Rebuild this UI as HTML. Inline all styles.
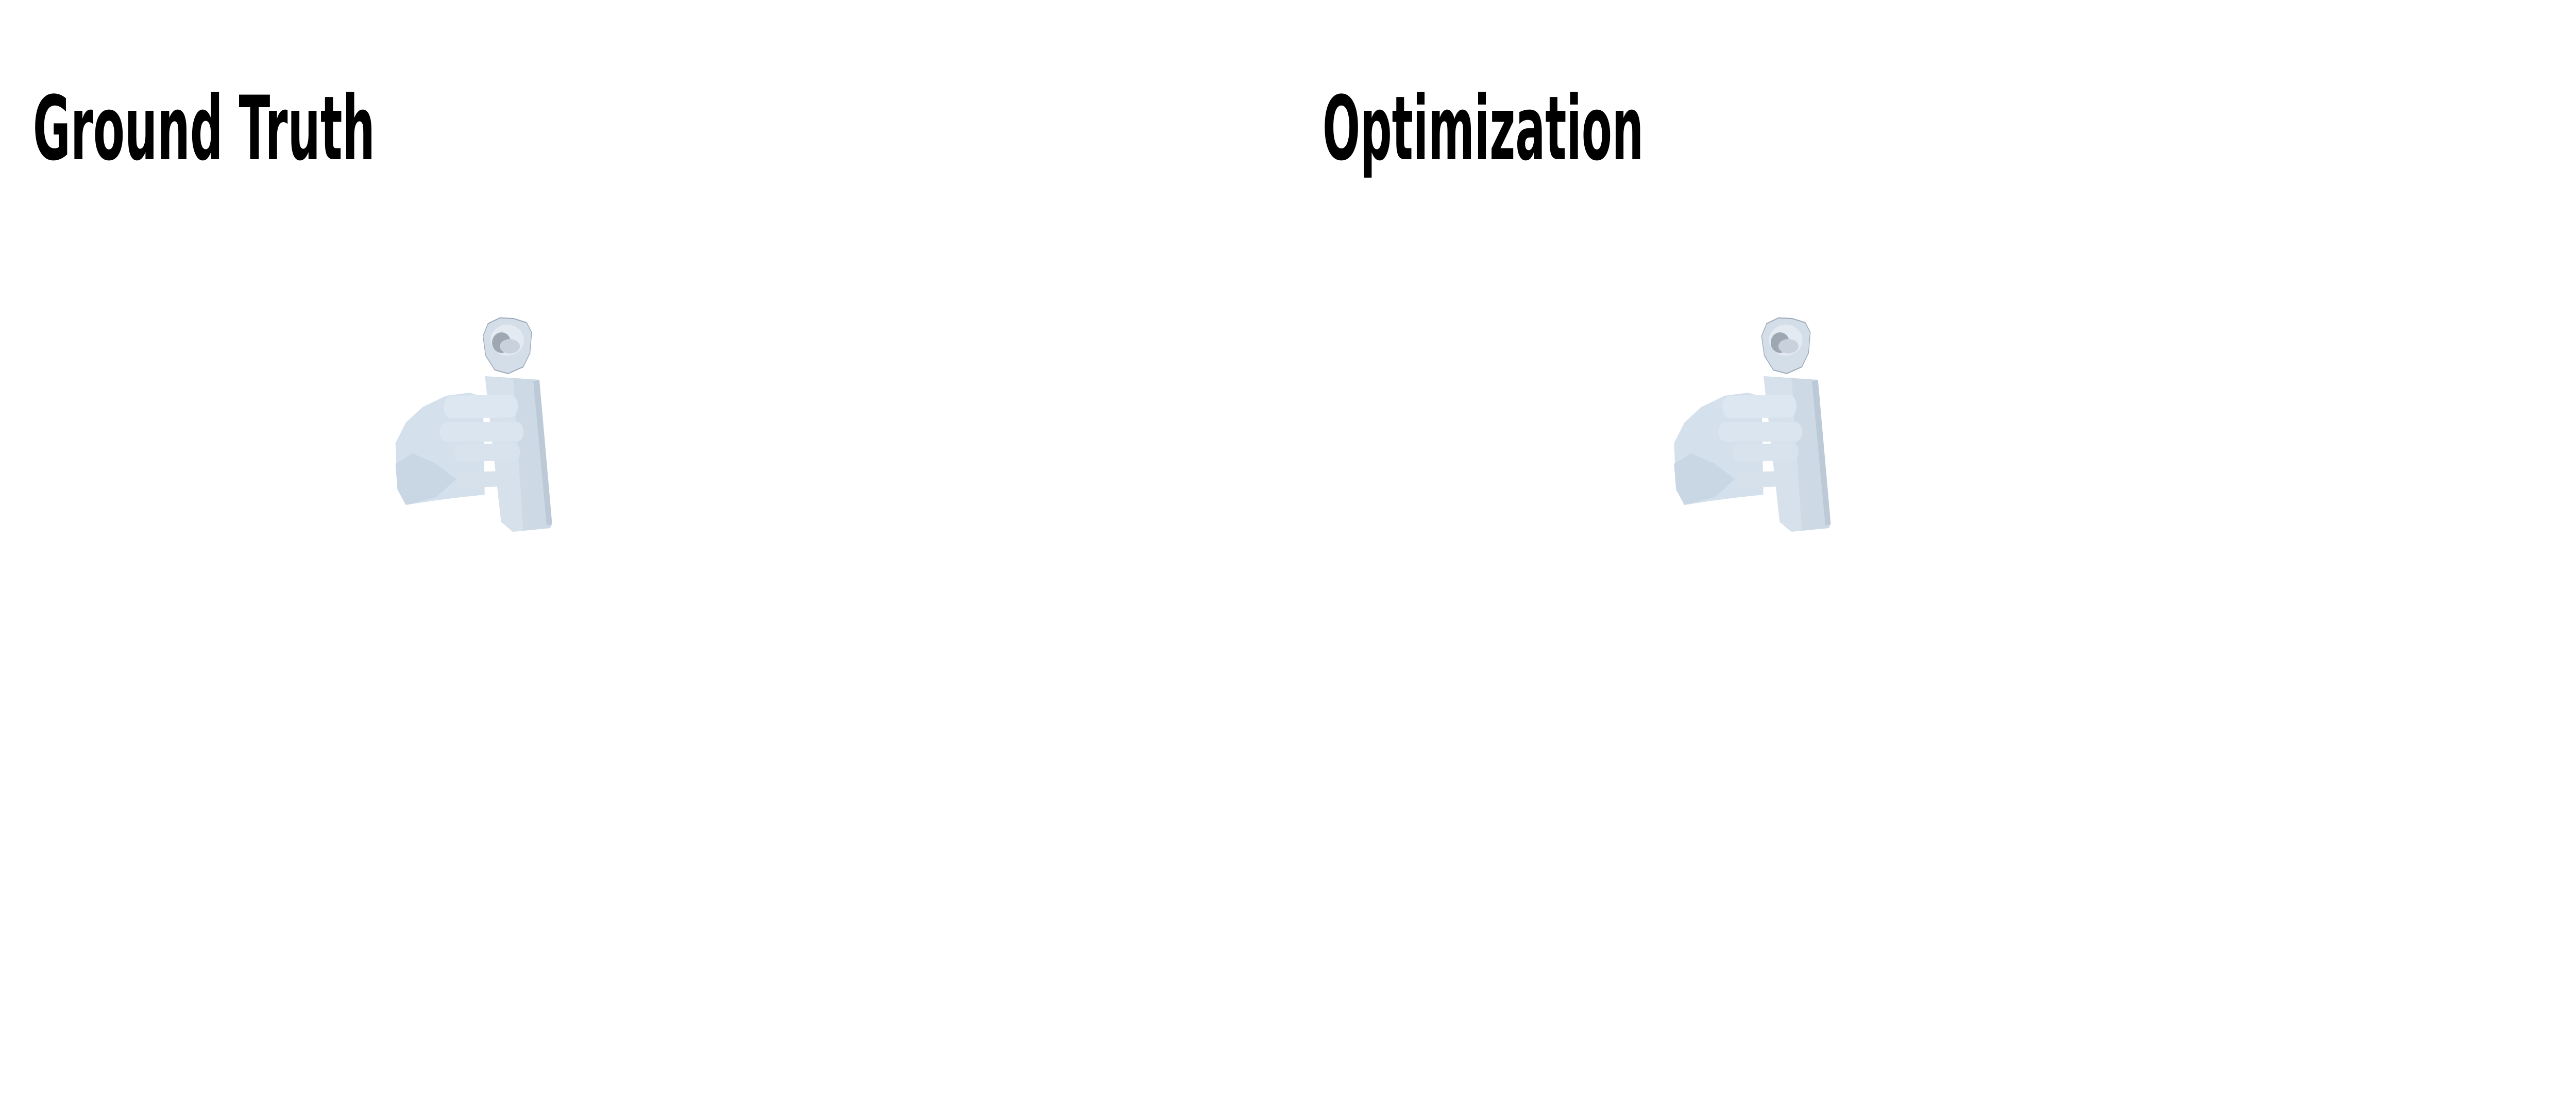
<!DOCTYPE html>
<html><head><meta charset="utf-8"><style>
html,body{margin:0;padding:0;background:#fff;overflow:hidden;width:100%;height:100%;}
svg{display:block;width:100vw;height:100vh;}
</style></head><body>
<svg viewBox="0 0 7680 2160" preserveAspectRatio="none" xmlns="http://www.w3.org/2000/svg">
<defs>
<g id="scene">
  <g>
    <polygon points="1446,730 1608,737 1646,1017 1640,1025 1529,1032 1494,1013" fill="#cdd9e5"/>
    <polygon points="1446,730 1530,735 1560,1030 1529,1032 1494,1013" fill="#d6e1ec"/>
    <polygon points="1590,740 1608,737 1646,1017 1630,1020" fill="#bcc9d6"/>
    <polygon points="1440,652 1455,628 1490,617 1530,618 1570,626 1585,645 1580,685 1560,712 1515,725 1475,718 1448,690" fill="#d3dee9" stroke="#9aa8b6" stroke-width="2"/>
    <ellipse cx="1512" cy="660" rx="50" ry="30" fill="#e3eaf2"/>
    <ellipse cx="1495" cy="665" rx="28" ry="20" fill="#9ea8b2"/>
    <ellipse cx="1520" cy="672" rx="30" ry="14" fill="#c9d2dc"/>
  </g>
  <g>
    <polygon points="1179,860 1210,820 1260,790 1330,768 1400,762 1440,770 1445,960 1360,966 1290,972 1210,980 1185,950" fill="#d4e0ec"/>
    <polygon points="1179,900 1230,880 1300,900 1360,930 1300,965 1210,980 1185,950" fill="#c9d6e3"/>
    <line x1="1345" y1="790" x2="1522" y2="788" stroke="#dde7f2" stroke-width="44" stroke-linecap="round"/>
    <line x1="1330" y1="838" x2="1542" y2="838" stroke="#dbe5f0" stroke-width="38" stroke-linecap="round"/>
    <line x1="1370" y1="879" x2="1533" y2="877" stroke="#d8e3ee" stroke-width="34" stroke-linecap="round"/>
    <line x1="1375" y1="932" x2="1500" y2="929" stroke="#d6e1ec" stroke-width="30" stroke-linecap="round"/>
  </g>
</g>
</defs>
<text x="98" y="309" font-family="'DejaVu Sans', 'Liberation Sans', sans-serif" font-weight="bold" font-size="172" textLength="1020" lengthAdjust="spacingAndGlyphs" fill="#000">Ground Truth</text>
<text x="3943" y="309" font-family="'DejaVu Sans', 'Liberation Sans', sans-serif" font-weight="bold" font-size="172" textLength="957" lengthAdjust="spacingAndGlyphs" fill="#000">Optimization</text>
<use href="#scene"/>
<use href="#scene" transform="translate(3812,0)"/>
</svg>
</body></html>
